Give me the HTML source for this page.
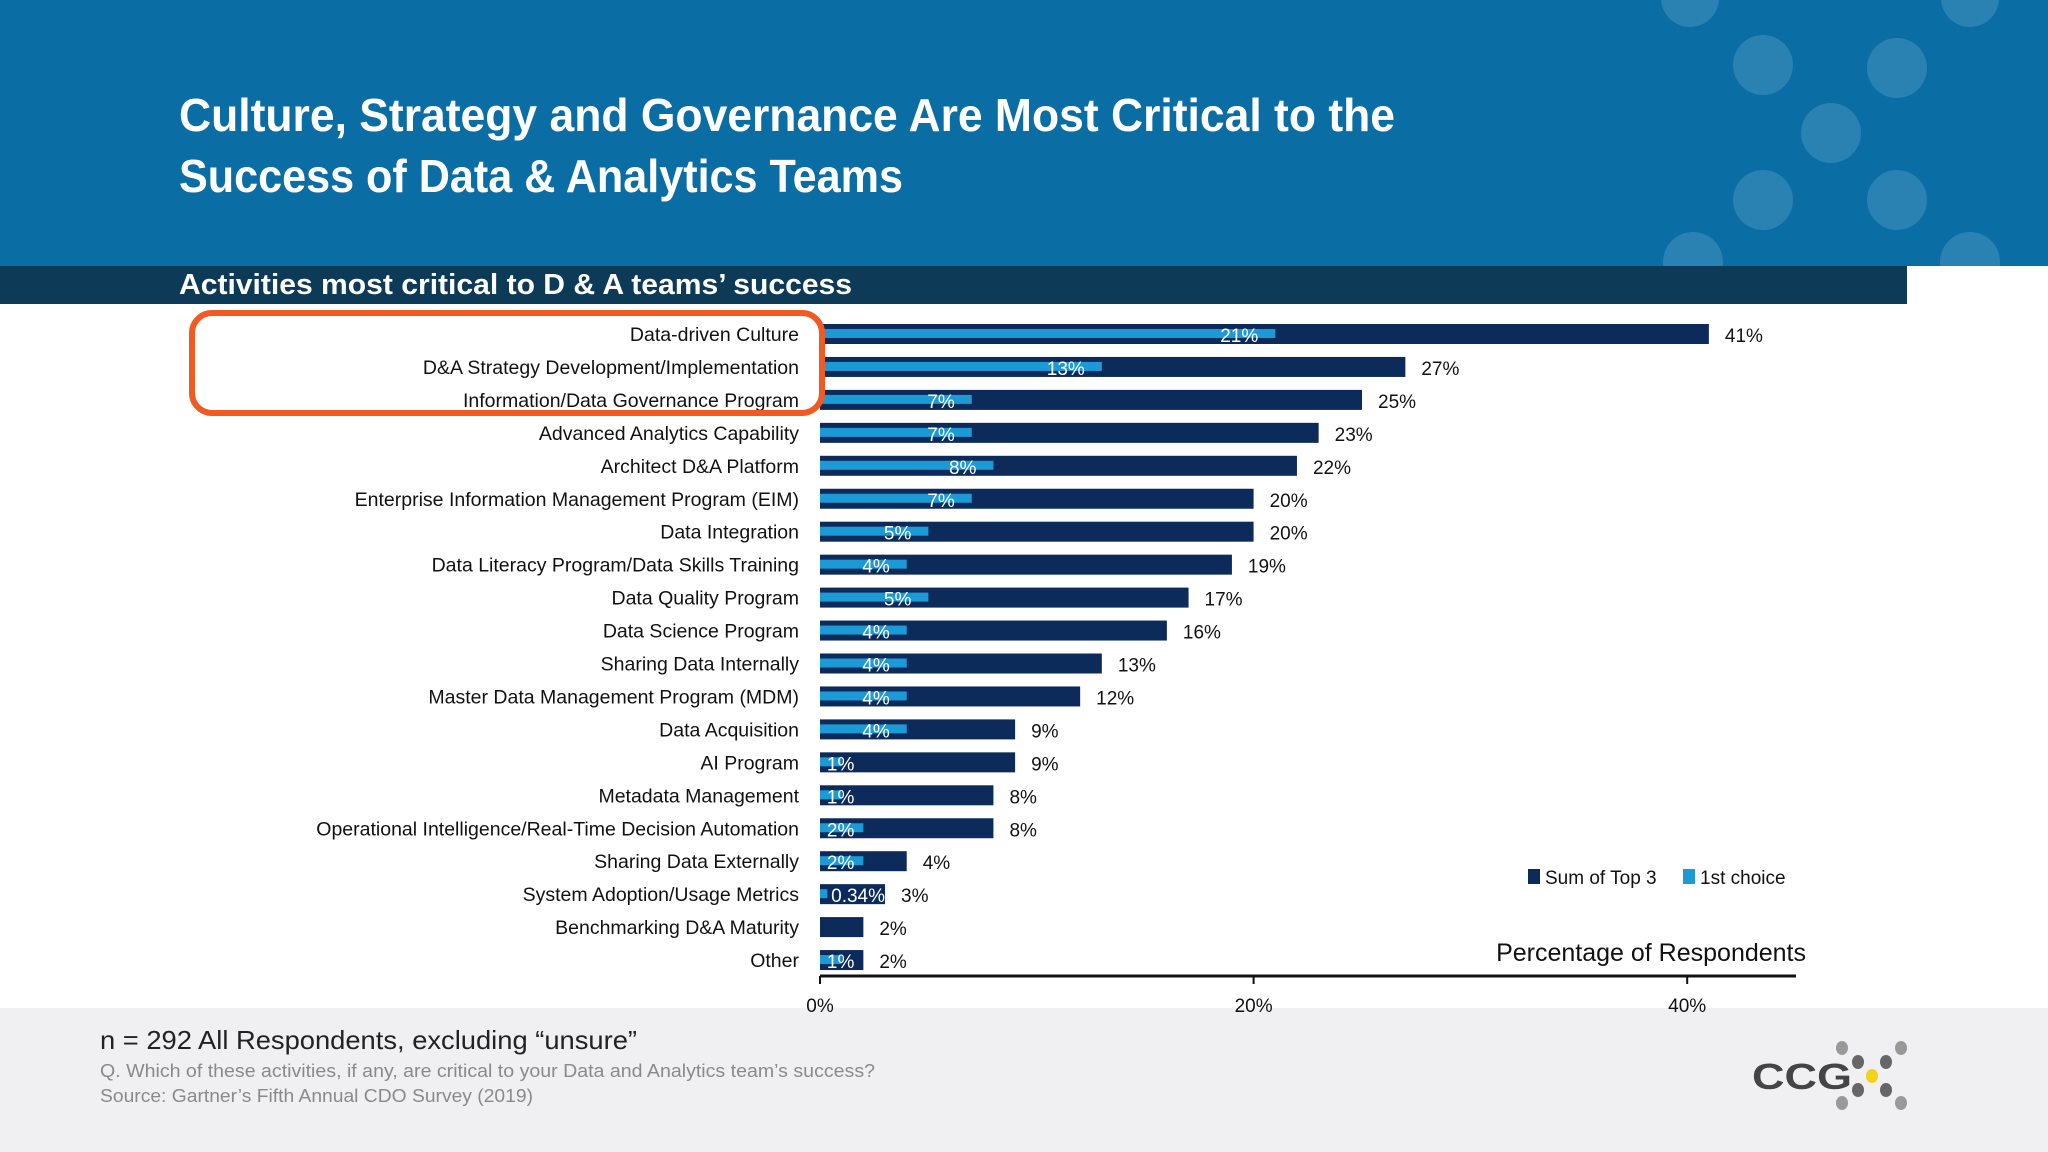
<!DOCTYPE html>
<html><head><meta charset="utf-8"><style>
html,body{margin:0;padding:0;width:2048px;height:1152px;overflow:hidden;background:#fff;}
svg{display:block;font-family:"Liberation Sans",sans-serif;}
</style></head><body>
<svg id="chart" width="2048" height="1152" viewBox="0 0 2048 1152">
  <defs><clipPath id="hdr"><rect x="0" y="0" width="2048" height="266"/></clipPath></defs>
  <rect x="0" y="0" width="2048" height="266" fill="#0a6ea4"/>
  <g fill="#2a82b3" clip-path="url(#hdr)">
    <circle cx="1690" cy="-2" r="29"/><circle cx="1970" cy="-2" r="29"/>
    <circle cx="1763" cy="65" r="30"/><circle cx="1897" cy="68" r="30"/>
    <circle cx="1831" cy="133" r="30"/><circle cx="1763" cy="200" r="30"/>
    <circle cx="1897" cy="200" r="30"/><circle cx="1693" cy="262" r="30"/>
    <circle cx="1970" cy="262" r="30"/>
  </g>
  <text x="179" y="131" fill="#fff" font-weight="bold" font-size="46" textLength="1216" lengthAdjust="spacingAndGlyphs">Culture, Strategy and Governance Are Most Critical to the</text>
  <text x="179" y="192" fill="#fff" font-weight="bold" font-size="46" textLength="724" lengthAdjust="spacingAndGlyphs">Success of Data &amp; Analytics Teams</text>
  <rect x="0" y="266" width="1907" height="38" fill="#0d3a56"/>
  <text x="179" y="294" fill="#fff" font-weight="bold" font-size="29" textLength="673" lengthAdjust="spacingAndGlyphs">Activities most critical to D &amp; A teams’ success</text>
  <rect x="0" y="1008" width="2048" height="144" fill="#f0f0f2"/>
  <text x="100" y="1049" fill="#222" font-size="26" textLength="537" lengthAdjust="spacingAndGlyphs">n = 292 All Respondents, excluding “unsure”</text>
  <text x="100" y="1077" fill="#8a8a8a" font-size="18" textLength="775" lengthAdjust="spacingAndGlyphs">Q. Which of these activities, if any, are critical to your Data and Analytics team’s success?</text>
  <text x="100" y="1102" fill="#8a8a8a" font-size="18" textLength="433" lengthAdjust="spacingAndGlyphs">Source: Gartner’s Fifth Annual CDO Survey (2019)</text>
  <g>
    <text x="1752" y="1089" fill="#444" font-weight="bold" font-size="36" textLength="100" lengthAdjust="spacingAndGlyphs">CCG</text>
    <g fill="#999"><ellipse cx="1842" cy="1048" rx="6" ry="7"/><ellipse cx="1901" cy="1048" rx="6" ry="7"/><ellipse cx="1842" cy="1103" rx="6" ry="7"/><ellipse cx="1901" cy="1103" rx="6" ry="7"/></g>
    <g fill="#666"><ellipse cx="1858" cy="1062" rx="6" ry="7"/><ellipse cx="1886" cy="1062" rx="6" ry="7"/><ellipse cx="1858" cy="1090" rx="6" ry="7"/><ellipse cx="1886" cy="1090" rx="6" ry="7"/></g>
    <ellipse cx="1872" cy="1076" rx="6" ry="7" fill="#f2d21a"/>
  </g>
  <g id="plot"></g>
  <rect x="192" y="313" width="630" height="100" rx="20" fill="none" stroke="#f15a22" stroke-width="6"/>
</svg>
<script>
const categories = ["Data-driven Culture","D&A Strategy Development/Implementation","Information/Data Governance Program","Advanced Analytics Capability","Architect D&A Platform","Enterprise Information Management Program (EIM)","Data Integration","Data Literacy Program/Data Skills Training","Data Quality Program","Data Science Program","Sharing Data Internally","Master Data Management Program (MDM)","Data Acquisition","AI Program","Metadata Management","Operational Intelligence/Real-Time Decision Automation","Sharing Data Externally","System Adoption/Usage Metrics","Benchmarking D&A Maturity","Other"];
const sumTop3 = [41,27,25,23,22,20,20,19,17,16,13,12,9,9,8,8,4,3,2,2];
const firstChoice = [21,13,7,7,8,7,5,4,5,4,4,4,4,1,1,2,2,0.34,0,1];
const firstChoiceLabels = ["21%","13%","7%","7%","8%","7%","5%","4%","5%","4%","4%","4%","4%","1%","1%","2%","2%","0.34%","","1%"];
const xTicks = [0,20,40];

const NS = "http://www.w3.org/2000/svg";
const X0 = 820, PX = 21.68;
function xs(v){ return X0 + v*PX; }
function ys(i){ return 334 + i*32.95; }
const g = document.getElementById('plot');
function mk(tag, attrs, txt){
  const e = document.createElementNS(NS, tag);
  for (const k in attrs) e.setAttribute(k, attrs[k]);
  if (txt !== undefined) e.textContent = txt;
  g.appendChild(e); return e;
}
categories.forEach((c,i)=>{
  const y = ys(i);
  const lab = mk('text',{x:799,y:y+7,'text-anchor':'end','font-size':19.5,fill:'#111'},c);
  
  
  const b = mk('rect',{x:X0,y:y-10,width:xs(sumTop3[i])-X0,height:20,fill:'#0c2b5a'});
  
  
  if (firstChoice[i] > 0) {
    const l = mk('rect',{x:X0,y:y-5,width:Math.max(xs(firstChoice[i])-X0,3),height:9,fill:'#1b9ad6'});
    
    
  }
  if (firstChoiceLabels[i]) {
    const w = firstChoiceLabels[i].length*10.2;
    const right = Math.max(xs(firstChoice[i])-17, X0+14+w);
    const t = mk('text',{x:right,y:y+8,'text-anchor':'end','font-size':19,fill:'#fff'},firstChoiceLabels[i]);
    
    
  }
  const v = mk('text',{x:xs(sumTop3[i])+16,y:y+8,'font-size':19,fill:'#111'},sumTop3[i]+'%');
  
  
});
const ax = mk('line',{x1:X0,y1:976,x2:1796,y2:976,stroke:'#111','stroke-width':3});


xTicks.forEach(t=>{
  const tk = mk('line',{x1:xs(t),y1:976,x2:xs(t),y2:984,stroke:'#111','stroke-width':2});
  
  
  const tl = mk('text',{x:xs(t),y:1012,'text-anchor':'middle','font-size':19,fill:'#111'},t+'%');
  
  
});
const at = mk('text',{x:1806,y:961,'text-anchor':'end','font-size':25,fill:'#111'},'Percentage of Respondents');


const l1 = mk('rect',{x:1528,y:869,width:12,height:15,fill:'#0c2b5a'});


const l1t = mk('text',{x:1545,y:884,'font-size':19,fill:'#111'},'Sum of Top 3');


const l2 = mk('rect',{x:1683,y:869,width:12,height:15,fill:'#1b9ad6'});


const l2t = mk('text',{x:1700,y:884,'font-size':19,fill:'#111'},'1st choice');


</script>
</body></html>
